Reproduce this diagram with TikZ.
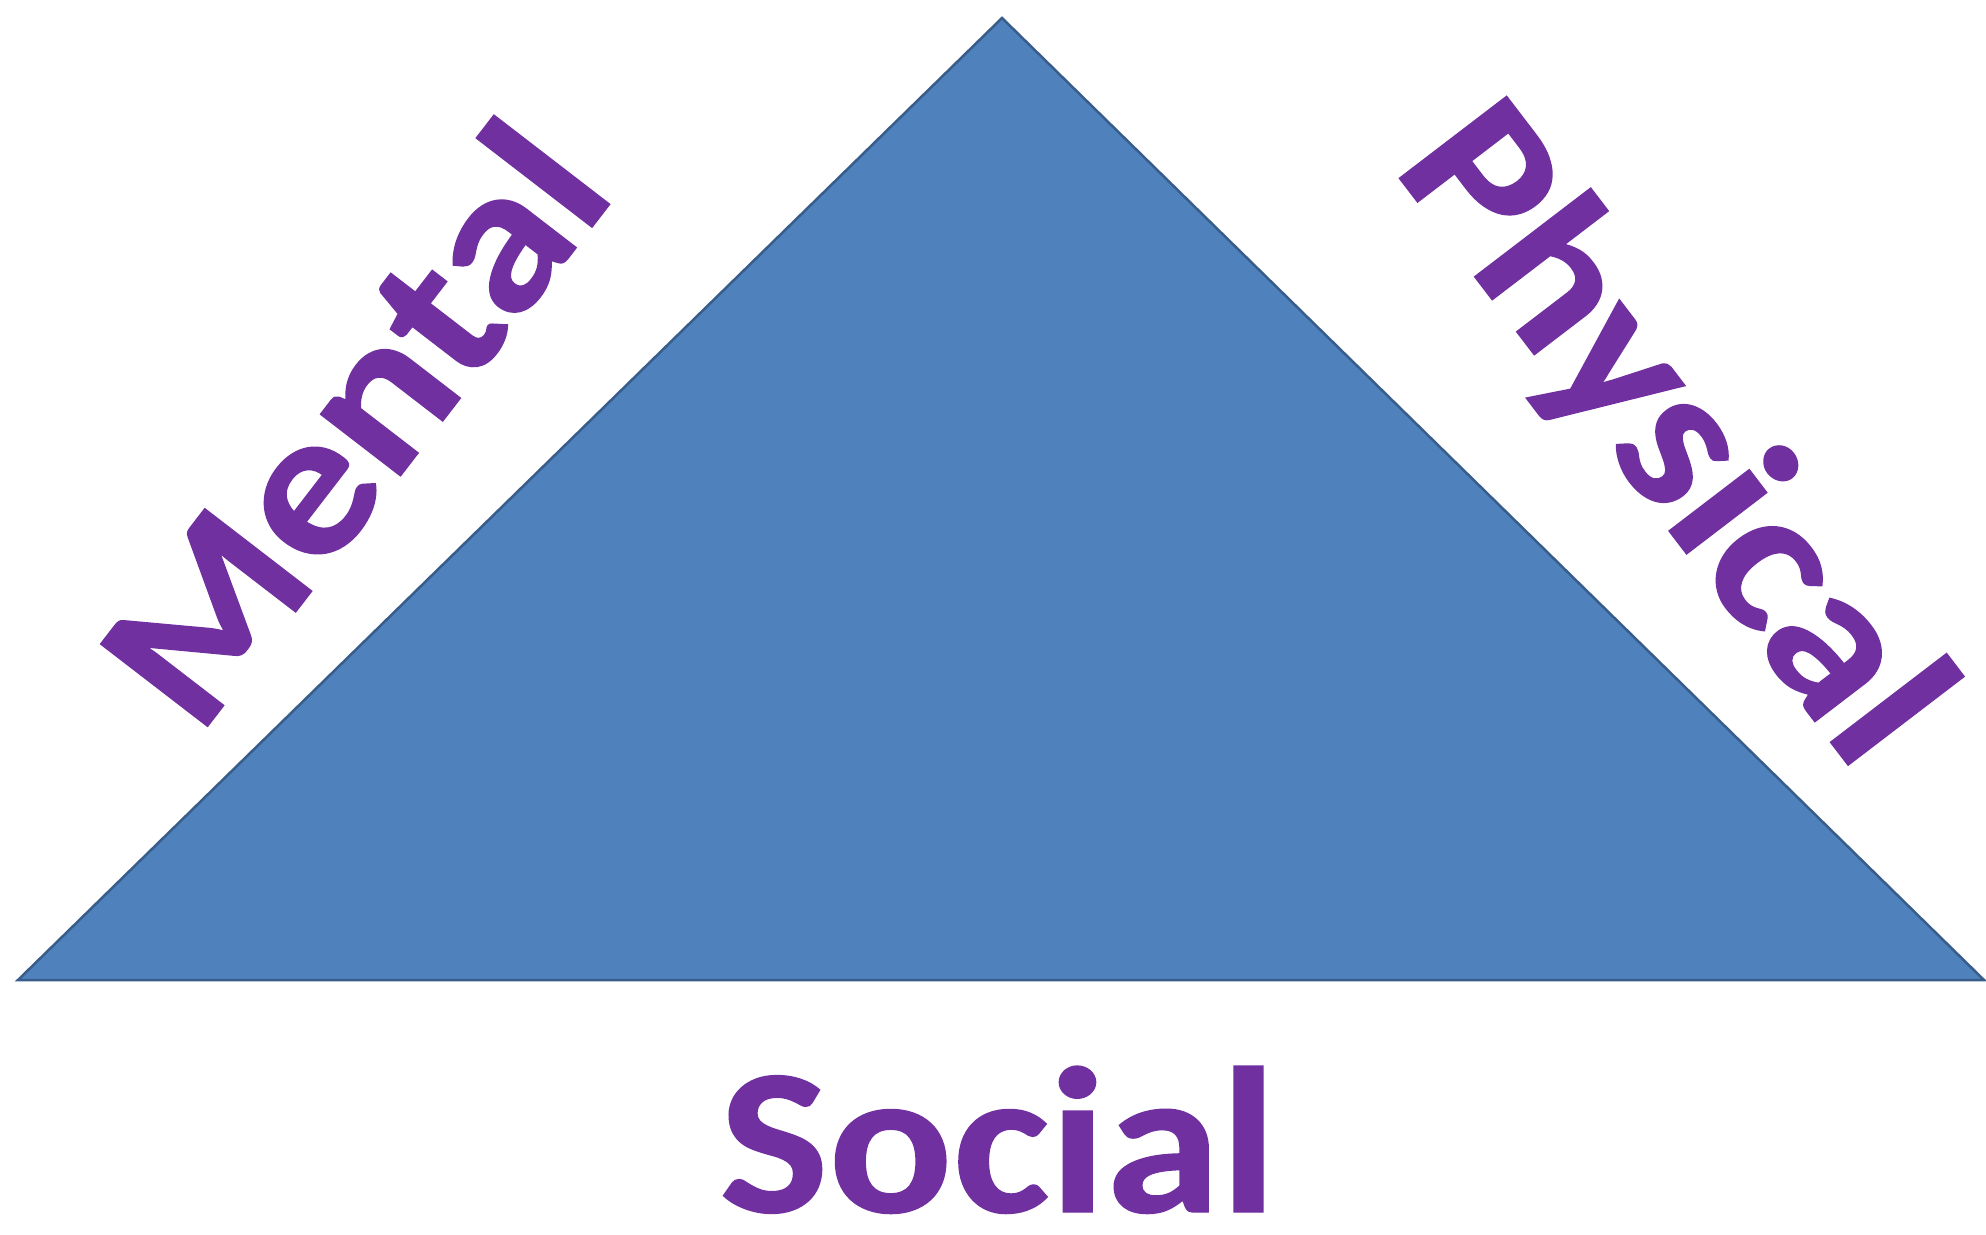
\documentclass[tikz,border=0pt]{standalone}
\usepackage{graphicx}
\usepackage{fontspec}
\setmainfont{Carlito}[BoldFeatures={FakeBold=0.7}]
\definecolor{trifill}{HTML}{4F81BD}
\definecolor{triline}{HTML}{385D8A}
\definecolor{labelpurple}{HTML}{7030A0}
\newcommand{\widelabel}[1]{\scalebox{1.11}[1.0]{#1}}
\begin{document}
\begin{tikzpicture}[x=1pt,y=-1pt,
  lbl/.style={text=labelpurple,font=\fontsize{208}{250}\selectfont\bfseries,inner sep=0pt,anchor=base}]
\useasboundingbox[fill=white] (0,0) rectangle (1986,1234);
\coordinate (apex) at (1002,18);
\coordinate (left) at (18,980);
\coordinate (right) at (1984,980);
\fill[trifill,draw=triline,line width=2.5pt,line join=miter] (apex) -- (right) -- (left) -- cycle;
\node[lbl,rotate=52.4] (mental) at (408,466) {\widelabel{Mental}};
\node[lbl,rotate=-52.6] (physical) at (1624,472) {\widelabel{Physical}};
\node[lbl] (social) at (998,1212) {\widelabel{Social}};
\end{tikzpicture}
\end{document}
